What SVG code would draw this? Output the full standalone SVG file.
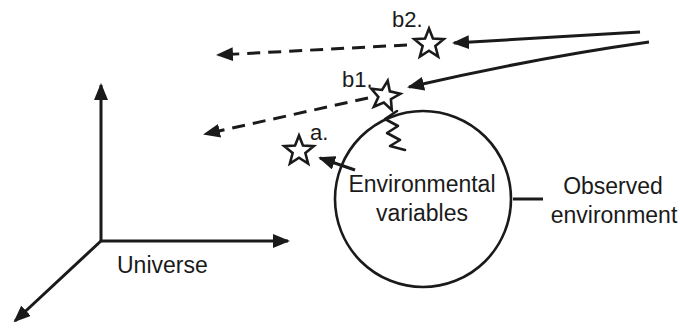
<svg xmlns="http://www.w3.org/2000/svg" width="680" height="334" viewBox="0 0 680 334">
<style>
.ln{fill:none;stroke:#1a1a1a;stroke-width:3}
.dash{stroke-dasharray:13 8}
.st{fill:#fff;stroke:#1a1a1a;stroke-width:2.6;stroke-linejoin:miter}
text{font-family:"Liberation Sans",Arial,sans-serif;fill:#1a1a1a}
.big{font-size:23px}
.lbl{font-size:22px}
</style>
<defs>
<marker id="ah" markerUnits="userSpaceOnUse" viewBox="0 0 17 14" refX="15" refY="7" markerWidth="17" markerHeight="14" orient="auto">
<path d="M0,0 L17,7 L0,14 Z" fill="#1a1a1a"/>
</marker>
<path id="star" d="M0,-15.5 L3.94,-5.42 L14.74,-4.79 L6.37,2.07 L9.11,12.54 L0,6.7 L-9.11,12.54 L-6.37,2.07 L-14.74,-4.79 L-3.94,-5.42 Z"/>
</defs>
<g id="connectors">
<line class="ln" x1="101" y1="241" x2="101" y2="85" marker-end="url(#ah)"/>
<line class="ln" x1="100" y1="241" x2="288" y2="241" marker-end="url(#ah)"/>
<line class="ln" x1="102" y1="240" x2="15" y2="321" marker-end="url(#ah)"/>
<line class="ln dash" x1="407" y1="45" x2="218" y2="55" marker-end="url(#ah)"/>
<line class="ln dash" x1="368" y1="98" x2="205" y2="134" marker-end="url(#ah)"/>
<line class="ln" x1="640" y1="32" x2="454" y2="43" marker-end="url(#ah)"/>
<path class="ln" d="M649,42 Q535,58 409,87" marker-end="url(#ah)"/>
<line class="ln" x1="355" y1="170" x2="320" y2="158" marker-end="url(#ah)"/>
<line class="ln" x1="513" y1="199" x2="543" y2="199"/>
<path class="ln" style="stroke-width:2.6;stroke-linejoin:round;stroke-linecap:round" d="M397,111 L385,119 L398,126 L387,133 L400,140 L390,146 L405,150"/>
</g>
<g id="environment">
<circle class="ln" style="stroke-width:2.6" cx="423" cy="199" r="88"/>
<text class="big" x="422" y="192" text-anchor="middle">Environmental</text>
<text class="big" x="422" y="221" text-anchor="middle">variables</text>
</g>
<g id="observed">
<text class="big" x="613" y="194" text-anchor="middle">Observed</text>
<text class="big" x="614" y="223" text-anchor="middle">environment</text>
</g>
<g id="universe">
<text class="big" x="117" y="273">Universe</text>
</g>
<g id="star-b2">
<use href="#star" class="st" transform="translate(429,44)"/>
<text class="lbl" x="392" y="27">b2.</text>
</g>
<g id="star-b1">
<use href="#star" class="st" transform="translate(385,96) rotate(10)"/>
<text class="lbl" x="342" y="87">b1.</text>
</g>
<g id="star-a">
<use href="#star" class="st" transform="translate(299,151)"/>
<text class="lbl" x="310" y="140">a.</text>
</g>
</svg>
